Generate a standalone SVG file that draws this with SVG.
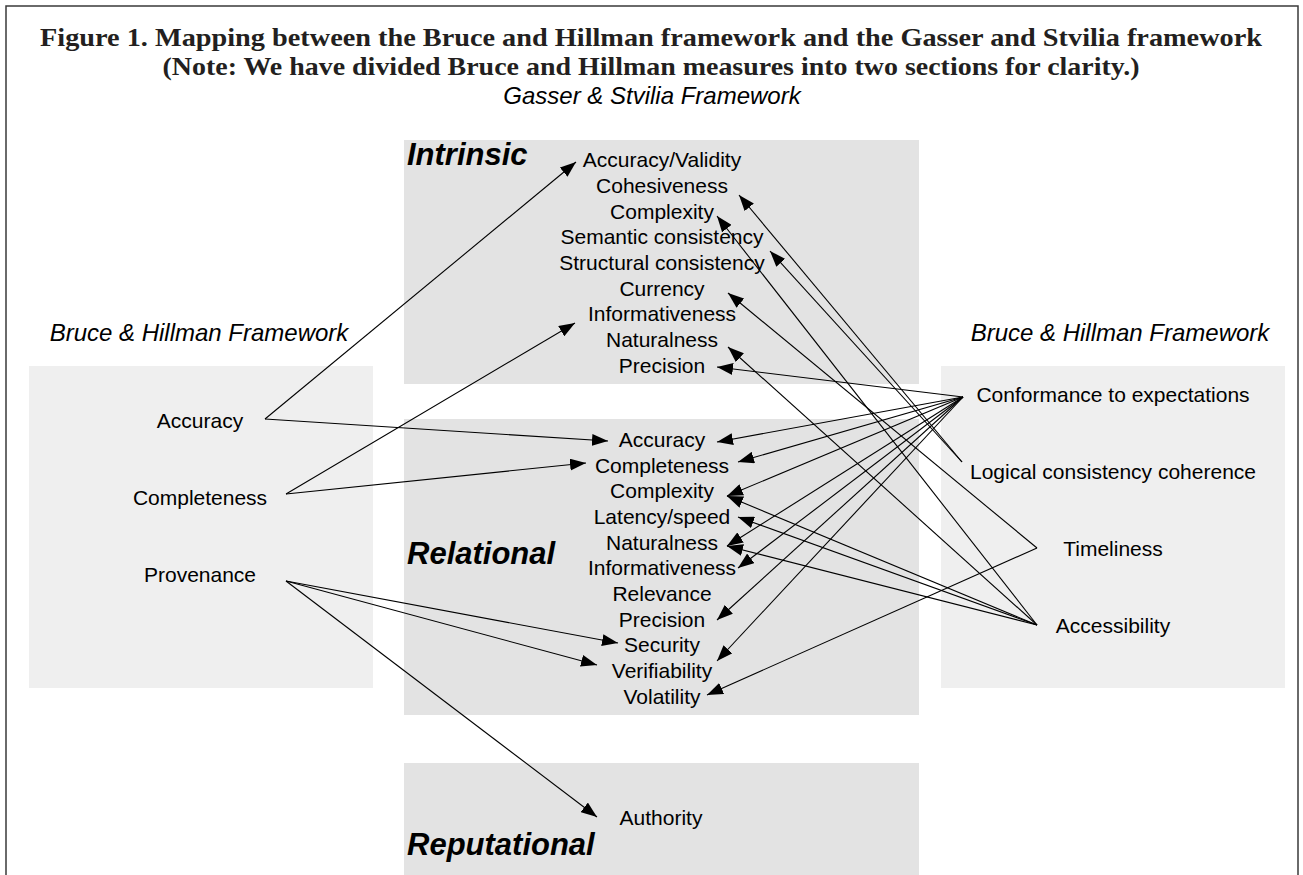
<svg xmlns="http://www.w3.org/2000/svg" width="1303" height="875" viewBox="0 0 1303 875">
<defs>
<marker id="ah" markerUnits="userSpaceOnUse" markerWidth="17" markerHeight="12" refX="16" refY="6" orient="auto">
<path d="M0,0 L16,6 L0,12 z" fill="#000"/>
</marker>
<style>
.title{font-family:"Liberation Serif",serif;font-weight:bold;font-size:26px;fill:#231f20}
.fw{font-family:"Liberation Sans",Arial,sans-serif;font-style:italic;font-size:24px;fill:#000}
.cat{font-family:"Liberation Sans",Arial,sans-serif;font-style:italic;font-weight:bold;font-size:31px;fill:#000}
.it{font-family:"Liberation Sans",Arial,sans-serif;font-size:21px;fill:#000;text-anchor:middle}
.side{fill:#efefef}
.grp{fill:#e3e3e3}
.cn{stroke:#000;stroke-width:1.1;fill:none;marker-end:url(#ah)}
</style>
</defs>
<rect width="1303" height="875" fill="#fff"/>
<path d="M6,875 V6 H1298 V875" fill="none" stroke="#3a3a3a" stroke-width="1.5"/>
<g id="titles">
<text class="title" x="651" y="46" text-anchor="middle" textLength="1222" lengthAdjust="spacingAndGlyphs">Figure 1. Mapping between the Bruce and Hillman framework and the Gasser and Stvilia framework</text>
<text class="title" x="651" y="75" text-anchor="middle" textLength="977" lengthAdjust="spacingAndGlyphs">(Note: We have divided Bruce and Hillman measures into two sections for clarity.)</text>
<text class="fw" x="652" y="104" text-anchor="middle">Gasser &amp; Stvilia Framework</text>
<text class="fw" x="199" y="341" text-anchor="middle">Bruce &amp; Hillman Framework</text>
<text class="fw" x="1120" y="341" text-anchor="middle">Bruce &amp; Hillman Framework</text>
</g>
<g id="left-panel">
<rect class="side" x="29" y="366" width="344" height="322"/>
<text class="it" x="200" y="428">Accuracy</text>
<text class="it" x="200" y="505">Completeness</text>
<text class="it" x="200" y="582">Provenance</text>
</g>
<g id="right-panel">
<rect class="side" x="941" y="366" width="344" height="322"/>
<text class="it" x="1113" y="402">Conformance to expectations</text>
<text class="it" x="1113" y="479">Logical consistency coherence</text>
<text class="it" x="1113" y="556">Timeliness</text>
<text class="it" x="1113" y="633">Accessibility</text>
</g>
<g id="intrinsic">
<rect class="grp" x="404" y="140" width="515" height="244"/>
<text class="cat" x="407" y="165">Intrinsic</text>
<text class="it" x="662" y="167">Accuracy/Validity</text>
<text class="it" x="662" y="193">Cohesiveness</text>
<text class="it" x="662" y="219">Complexity</text>
<text class="it" x="662" y="244">Semantic consistency</text>
<text class="it" x="662" y="270">Structural consistency</text>
<text class="it" x="662" y="296">Currency</text>
<text class="it" x="662" y="321">Informativeness</text>
<text class="it" x="662" y="347">Naturalness</text>
<text class="it" x="662" y="373">Precision</text>
</g>
<g id="relational">
<rect class="grp" x="404" y="419" width="515" height="296"/>
<text class="cat" x="407" y="564">Relational</text>
<text class="it" x="662" y="447">Accuracy</text>
<text class="it" x="662" y="473">Completeness</text>
<text class="it" x="662" y="498">Complexity</text>
<text class="it" x="662" y="524">Latency/speed</text>
<text class="it" x="662" y="550">Naturalness</text>
<text class="it" x="662" y="575">Informativeness</text>
<text class="it" x="662" y="601">Relevance</text>
<text class="it" x="662" y="627">Precision</text>
<text class="it" x="662" y="652">Security</text>
<text class="it" x="662" y="678">Verifiability</text>
<text class="it" x="662" y="704">Volatility</text>
</g>
<g id="reputational">
<rect class="grp" x="404" y="763" width="515" height="112"/>
<text class="cat" x="407" y="855">Reputational</text>
<text class="it" x="661" y="825">Authority</text>
</g>
<g id="connectors">
<path class="cn" d="M265,419 L576,162"/>
<path class="cn" d="M265,419 L608,441"/>
<path class="cn" d="M286,494 L575,323"/>
<path class="cn" d="M286,494 L586,463"/>
<path class="cn" d="M286,581 L618,643"/>
<path class="cn" d="M286,581 L597,665"/>
<path class="cn" d="M286,581 L597,817"/>
<path class="cn" d="M963,397 L717,367"/>
<path class="cn" d="M963,397 L717,442"/>
<path class="cn" d="M963,397 L738,462"/>
<path class="cn" d="M963,397 L727,496"/>
<path class="cn" d="M963,397 L727,546"/>
<path class="cn" d="M963,397 L738,568"/>
<path class="cn" d="M963,397 L717,620"/>
<path class="cn" d="M963,397 L717,661"/>
<path class="cn" d="M962,462 L739,195"/>
<path class="cn" d="M962,462 L770,251"/>
<path class="cn" d="M1037,548 L728,293"/>
<path class="cn" d="M1037,548 L707,695"/>
<path class="cn" d="M1037,625 L717,216"/>
<path class="cn" d="M1037,625 L728,347"/>
<path class="cn" d="M1037,625 L727,496"/>
<path class="cn" d="M1037,625 L738,517"/>
<path class="cn" d="M1037,625 L727,546"/>
</g>
</svg>
